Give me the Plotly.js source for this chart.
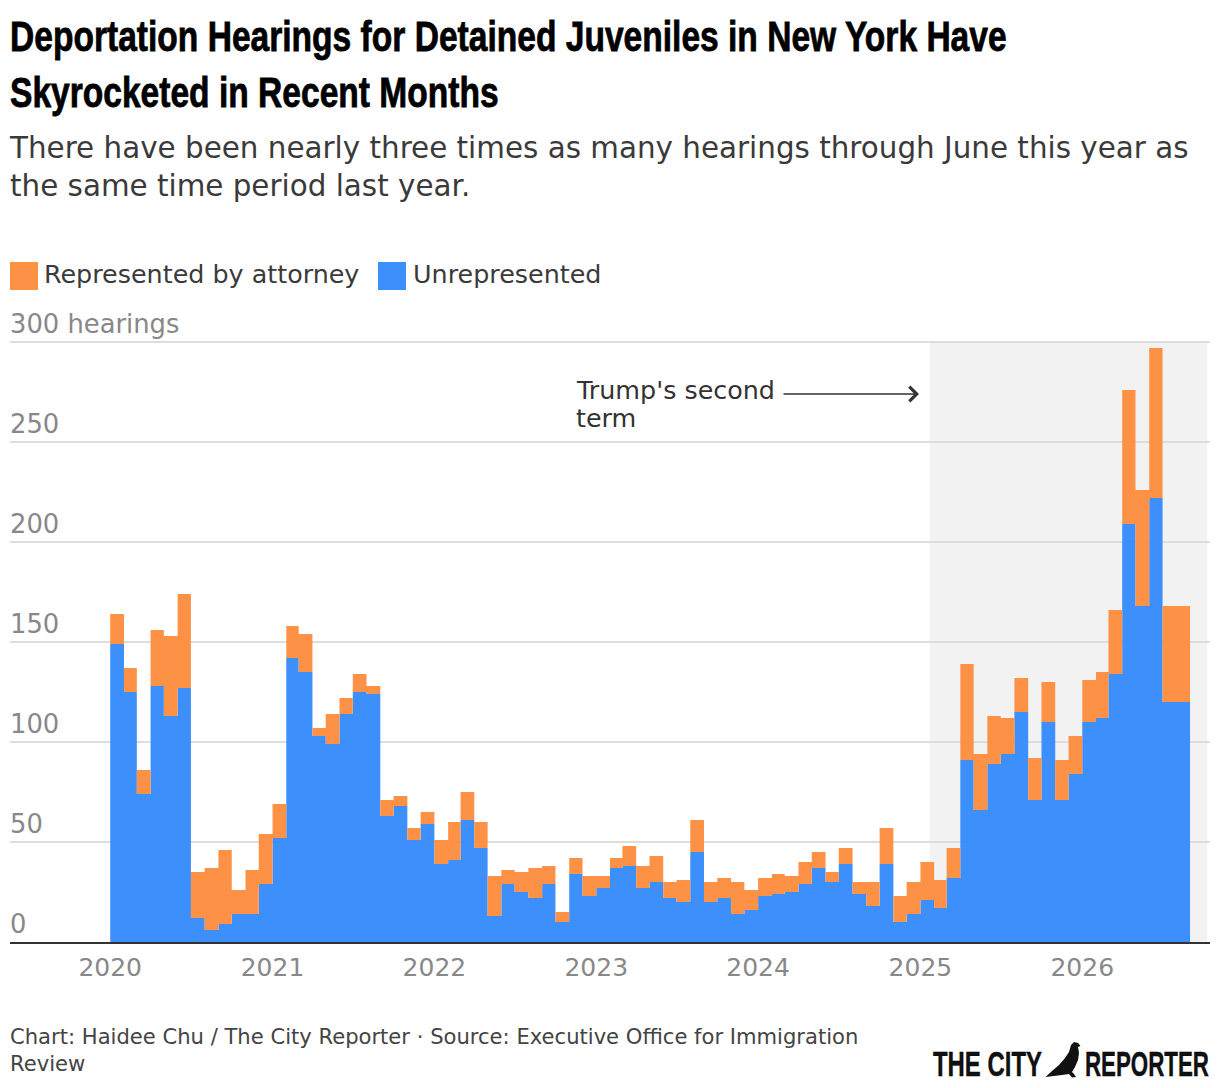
<!DOCTYPE html>
<html><head><meta charset="utf-8">
<script src="https://cdn.plot.ly/plotly-3.0.1.min.js"></script>
<style>html,body{margin:0;padding:0;background:#fff}</style></head>
<body><div id="chart" style="width:1220px;height:1088px"></div>
<script>
const months = ["2020-01","2020-02","2020-03","2020-04","2020-05","2020-06","2020-07","2020-08","2020-09","2020-10","2020-11","2020-12",
"2021-01","2021-02","2021-03","2021-04","2021-05","2021-06","2021-07","2021-08","2021-09","2021-10","2021-11","2021-12",
"2022-01","2022-02","2022-03","2022-04","2022-05","2022-06","2022-07","2022-08","2022-09","2022-10","2022-11","2022-12",
"2023-01","2023-02","2023-03","2023-04","2023-05","2023-06","2023-07","2023-08","2023-09","2023-10","2023-11","2023-12",
"2024-01","2024-02","2024-03","2024-04","2024-05","2024-06","2024-07","2024-08","2024-09","2024-10","2024-11","2024-12",
"2025-01","2025-02","2025-03","2025-04","2025-05","2025-06","2025-07","2025-08","2025-09","2025-10","2025-11","2025-12",
"2026-01","2026-02","2026-03","2026-04","2026-05","2026-06","2026-07","2026-08","2026-09"];
const unrepresented = [149,125,74,128,113,127,12,6,9,14,14,29,
52,142,135,103,99,114,125,124,63,68,51,59,
39,41,61,47,13,29,25,22,29,10,34,23,
27,37,38,27,30,22,20,45,20,22,14,16,
23,24,25,29,37,30,39,24,18,39,10,14,
21,17,32,91,66,89,94,115,71,110,71,84,
110,112,134,209,168,222,120,120,120];
const totals = [164,137,86,156,153,174,35,37,46,26,36,54,
69,158,154,107,114,122,134,128,71,73,57,65,
51,60,75,60,33,36,35,37,38,15,42,33,
33,42,48,38,43,30,31,61,30,32,30,26,
32,34,33,40,45,35,47,30,30,57,23,30,
40,31,47,139,94,113,112,132,92,130,91,103,
131,135,166,276,226,297,168,168,168];
const represented = totals.map((t,i)=>t-unrepresented[i]);
const yTickVals = [0,50,100,150,200,250,300];
const yTickText = ["0","50","100","150","200","250","300 hearings"];
const seriesNames = ["Unrepresented","Represented by attorney"];
const legendLabels = ["Represented by attorney","Unrepresented"];

const BODY = "DejaVu Sans";
const HEAD = "Liberation Sans";
// pixel -> paper helpers for chrome placed outside the plot
const L=10,R=10,T=340,B=146,W=1220,H=1088;
const px=x=>(x-L)/(W-L-R), py=y=>(H-B-y)/(H-T-B);
const rect=(x0,y0,x1,y1,c)=>({type:"rect",xref:"paper",yref:"paper",x0:px(x0),x1:px(x1),y0:py(y0),y1:py(y1),fillcolor:c,line:{width:0},layer:"above"});
const note=(x,y,text,size,color,font,weight)=>({xref:"paper",yref:"paper",x:px(x-3),y:py(y),text,showarrow:false,xanchor:"left",yanchor:"middle",align:"left",font:{family:font||BODY,size,color,weight:weight||400}});
const pigeon=[[1045.5,1077],[1052,1071],[1059,1065],[1065,1058],[1069,1052],[1071,1045],[1074,1042],[1078,1043],[1080.5,1046],[1078,1047],[1079,1053],[1078,1060],[1075,1067],[1072,1072],[1074,1074],[1076,1077],[1072,1077.5],[1069,1074],[1062,1075],[1054,1076]];
const pigeonPath="M"+pigeon.map(p=>px(p[0])+","+py(p[1])).join("L")+"Z";

const traces=[
 {type:"scatter",mode:"lines",name:seriesNames[0],x:months,y:unrepresented,stackgroup:"a",line:{shape:"hv",width:0},fillcolor:"rgba(51,137,251,0.95)"},
 {type:"scatter",mode:"lines",name:seriesNames[1],x:months,y:represented,stackgroup:"a",line:{shape:"hv",width:0},fillcolor:"rgba(253,140,61,0.95)"}
];
const yLabels=yTickVals.map((v,i)=>({xref:"paper",yref:"y",x:px(7.5),y:v,yshift:18,text:yTickText[i],showarrow:false,xanchor:"left",yanchor:"middle",font:{family:BODY,size:25.8,color:"#888"}}));
const layout={
 width:W,height:H,margin:{l:L,r:R,t:T,b:B,pad:0},paper_bgcolor:"#fff",plot_bgcolor:"#fff",showlegend:false,
 title:{text:"Deportation Hearings for Detained Juveniles in New York Have<br>Skyrocketed in Recent Months",x:10/W,xanchor:"left",xref:"container",y:1-51/H,yanchor:"top",yref:"container",font:{family:HEAD,size:43,color:"#000",weight:700}},
 xaxis:{type:"date",range:["2019-05-20","2026-10-16"],tick0:"2020-01-01",dtick:"M12",tickformat:"%Y",ticks:"",showgrid:false,zeroline:false,showline:true,linecolor:"#333",linewidth:2,tickfont:{family:BODY,size:25,color:"#888"},ticklabelstandoff:2},
 yaxis:{range:[0,301],tickvals:yTickVals,showticklabels:false,ticks:"",showgrid:true,gridcolor:"#ddd",gridwidth:2,zeroline:false,showline:false},
 shapes:[
  {type:"rect",xref:"x",yref:"y",x0:"2025-01-22",x1:"2026-10-10",y0:0,y1:300,fillcolor:"rgba(0,0,0,0.05)",line:{width:0},layer:"below"},
  rect(10,262,38,290,"#fd9247"),rect(378,262,406,290,"#3d8ffb"),
  {type:"path",xref:"paper",yref:"paper",path:pigeonPath,fillcolor:"#111",line:{width:0},layer:"above"}
 ],
 annotations:[
  note(10,167,"There have been nearly three times as many hearings through June this year as<br>the same time period last year.",29.4,"#3a3a3a"),
  note(45,273.5,legendLabels[0],25.4,"#3a3a3a"),
  note(414,273.5,legendLabels[1],25.4,"#3a3a3a"),
  note(576.5,389.5,"Trump's second",25.4,"#333"),
  note(577,417.5,"term",25.4,"#333"),
  note(11,1050,"Chart: Haidee Chu / The City Reporter · Source: Executive Office for Immigration<br>Review",21.1,"#444"),
  note(934,1063,"THE CITY",35,"#111",HEAD,700),
  note(1086,1063,"REPORTER",35,"#111",HEAD,700),
  {xref:"paper",yref:"paper",x:px(919),y:py(394),ayref:"pixel",axref:"pixel",ax:-137,ay:0,text:"",showarrow:true,arrowhead:4,arrowsize:1.9,arrowwidth:1.5,arrowcolor:"#333"},
  ...yLabels
 ]
};
function fit(el,target,stroke){
  const b=el.getBBox(), s=target/b.width;
  el.setAttribute("transform",`translate(${b.x} 0) scale(${s} 1) translate(${-b.x} 0)`);
  if(stroke){el.style.stroke="#000";el.style.strokeWidth=stroke+"px";}
}
Plotly.newPlot("chart",traces,layout,{displayModeBar:false,staticPlot:true}).then(gd=>{
  fit(gd.querySelector("text.gtitle"),997,0.8);
  gd.querySelectorAll("text.annotation-text").forEach(t=>{
    if(t.textContent==="THE CITY") fit(t,109,0.4);
    if(t.textContent==="REPORTER") fit(t,124,0.4);
  });
});
</script></body></html>
